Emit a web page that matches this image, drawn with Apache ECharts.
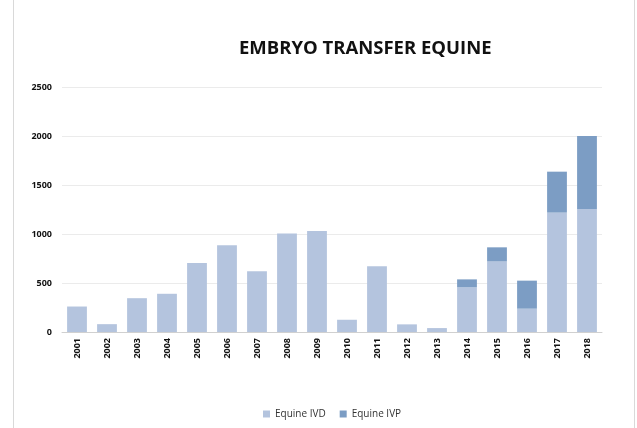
<!DOCTYPE html>
<html>
<head>
<meta charset="utf-8">
<script src="https://cdn.jsdelivr.net/npm/echarts@6/dist/echarts.min.js"></script>
<style>
  html, body { margin: 0; padding: 0; background: #fff; }
  #chart { width: 637px; height: 428px; }
</style>
</head>
<body>
<div id="chart"></div>
<script>
// years on the x axis
var years = ['2001', '2002', '2003', '2004', '2005', '2006', '2007', '2008', '2009',
             '2010', '2011', '2012', '2013', '2014', '2015', '2016', '2017', '2018'];
// in vivo derived embryos
var ivd = [260, 80, 345, 390, 705, 885, 620, 1005, 1030, 125, 670, 78, 40, 456, 721, 238, 1218, 1255];
// in vitro produced embryos (stacked on top)
var ivp = [0, 0, 0, 0, 0, 0, 0, 0, 0, 0, 0, 0, 0, 81, 143, 286, 418, 745];

var myChart = echarts.init(document.getElementById('chart'));

var option = {
    backgroundColor: '#fff',
    animation: false,
    title: {
        text: 'EMBRYO TRANSFER EQUINE',
        left: 234,
        top: 34,
        textStyle: { fontFamily: 'Open Sans', fontWeight: 'bold', fontSize: 18.5, color: '#111' }
    },
    graphic: [{
        type: 'rect',
        shape: { x: 13.5, y: -2, width: 621, height: 432 },
        style: { fill: 'none', stroke: '#d9d9d9', lineWidth: 1 },
        silent: true
    }],
    legend: {
        bottom: 4,
        left: 258,
        itemWidth: 7,
        itemHeight: 7,
        itemGap: 14,
        icon: 'rect',
        textStyle: { fontFamily: 'Open Sans', fontSize: 10, color: '#333' },
        data: ['Equine IVD', 'Equine IVP']
    },
    grid: { left: 62, right: 35, top: 87, bottom: 96, containLabel: false },
    xAxis: {
        type: 'category',
        data: years,
        axisLine: { lineStyle: { color: '#d0d0d0' } },
        axisTick: { show: false },
        axisLabel: {
            rotate: 90, interval: 0, margin: 6,
            fontFamily: 'Open Sans', fontWeight: 'bold', fontSize: 9, color: '#111'
        }
    },
    yAxis: {
        type: 'value',
        min: 0, max: 2500, interval: 500,
        axisLine: { show: false },
        axisTick: { show: false },
        splitLine: { lineStyle: { color: '#ebebeb' } },
        axisLabel: {
            margin: 10, fontFamily: 'Open Sans', fontWeight: 'bold', fontSize: 9, color: '#111',
            formatter: function (v) { return String(v); }
        }
    },
    series: [{
        name: 'Equine IVD',
        type: 'bar',
        stack: 'total',
        barWidth: '66%',
        itemStyle: { color: '#b4c4de' },
        data: ivd
    }, {
        name: 'Equine IVP',
        type: 'bar',
        stack: 'total',
        barWidth: '66%',
        itemStyle: { color: '#7c9dc4' },
        data: ivp
    }]
};

myChart.setOption(option);
</script>
</body>
</html>
